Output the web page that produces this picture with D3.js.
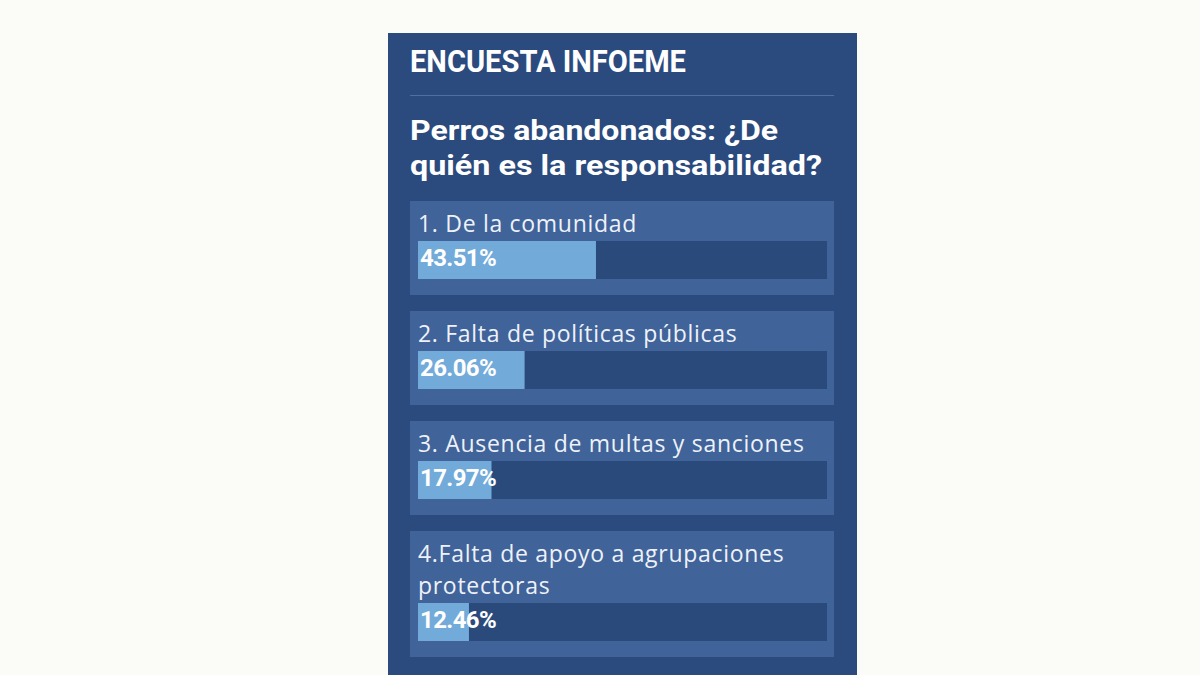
<!DOCTYPE html>
<html>
<head>
<meta charset="utf-8">
<script src="https://cdn.jsdelivr.net/npm/d3@7"></script>
<style>
  html, body { margin: 0; padding: 0; background: #fbfbf7; }
  svg { display: block; }
</style>
</head>
<body>
<div id="chart"></div>
<script>
// survey data
var header = 'ENCUESTA INFOEME';
var question = ['Perros abandonados: ¿De', 'quién es la responsabilidad?'];
var options = [
  ['1. De la comunidad'],
  ['2. Falta de políticas públicas'],
  ['3. Ausencia de multas y sanciones'],
  ['4.Falta de apoyo a agrupaciones', 'protectoras']
];
var percents = [43.51, 26.06, 17.97, 12.46];

var W = 1200, H = 675;
var panel = { x: 388, y: 33, w: 469 };
var cardX = 410, cardW = 424;
var barX = 418, barW = 409, barH = 38;
var lineH = 32, gap = 16;

var svg = d3.select('#chart').append('svg')
  .attr('width', W)
  .attr('height', H);

svg.append('rect')
  .attr('x', panel.x).attr('y', panel.y)
  .attr('width', panel.w).attr('height', H - panel.y)
  .attr('fill', '#2b4a7d');

svg.append('text')
  .attr('x', 410).attr('y', 72)
  .attr('font-family', 'Roboto, sans-serif')
  .attr('font-weight', 700)
  .attr('font-size', 31)
  .attr('fill', '#ffffff')
  .attr('textLength', 276)
  .attr('lengthAdjust', 'spacingAndGlyphs')
  .text(header);

svg.append('line')
  .attr('x1', 410).attr('x2', 834)
  .attr('y1', 95.5).attr('y2', 95.5)
  .attr('stroke', '#4f6ea1')
  .attr('stroke-width', 1);

svg.selectAll('text.question')
  .data(question)
  .enter()
  .append('text')
  .attr('class', 'question')
  .attr('x', 410)
  .attr('y', function(d, i) { return 140 + i * 35; })
  .attr('font-family', 'Roboto, sans-serif')
  .attr('font-weight', 700)
  .attr('font-size', 28)
  .attr('fill', '#ffffff')
  .attr('textLength', function(d, i) { return i === 0 ? 368 : 412; })
  .attr('lengthAdjust', 'spacingAndGlyphs')
  .text(function(d) { return d; });

var x = d3.scaleLinear().domain([0, 100]).range([0, barW]);

function barTop(d) { return 40 + (d.length - 1) * lineH; }
function cardH(d) { return barTop(d) + barH + 16; }

// stack cards vertically, height depends on number of label lines
var tops = [];
var y0 = 201;
options.forEach(function(lines) {
  tops.push(y0);
  y0 += cardH(lines) + gap;
});

var cards = svg.selectAll('g.card')
  .data(options)
  .enter()
  .append('g')
  .attr('class', 'card')
  .attr('transform', function(d, i) { return 'translate(0,' + tops[i] + ')'; });

cards.append('rect')
  .attr('x', cardX)
  .attr('width', cardW)
  .attr('height', cardH)
  .attr('fill', '#40639a');

cards.each(function(d) {
  d3.select(this).selectAll('text.label')
    .data(d)
    .enter()
    .append('text')
    .attr('class', 'label')
    .attr('x', barX)
    .attr('y', function(t, j) { return 31 + j * lineH; })
    .attr('font-family', '"Open Sans", sans-serif')
    .attr('font-size', 23)
    .attr('letter-spacing', 0.7)
    .attr('fill', '#eef2f8')
    .text(function(t) { return t; });
});

cards.append('rect')
  .attr('x', barX)
  .attr('y', barTop)
  .attr('width', barW)
  .attr('height', barH)
  .attr('fill', '#2a4a7b');

cards.append('rect')
  .attr('x', barX)
  .attr('y', barTop)
  .attr('width', function(d, i) { return x(percents[i]); })
  .attr('height', barH)
  .attr('fill', '#72aad9');

cards.append('text')
  .attr('x', barX + 2)
  .attr('y', function(d) { return barTop(d) + 25; })
  .attr('font-family', 'Roboto, sans-serif')
  .attr('font-weight', 700)
  .attr('font-size', 24)
  .attr('letter-spacing', -0.6)
  .attr('fill', '#ffffff')
  .text(function(d, i) { return percents[i].toFixed(2) + '%'; });
</script>
</body>
</html>
